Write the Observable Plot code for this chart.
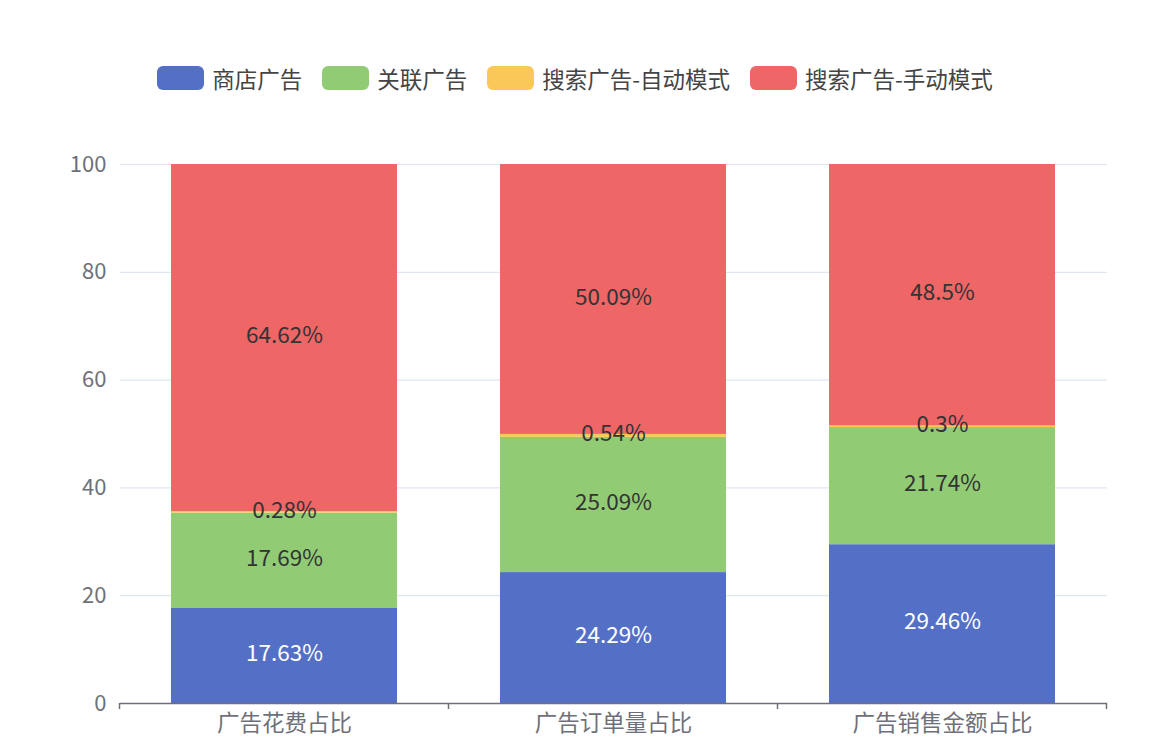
<!DOCTYPE html>
<html>
<head>
<meta charset="utf-8">
<script src="https://cdn.jsdelivr.net/npm/d3@7"></script>
<script src="https://cdn.jsdelivr.net/npm/@observablehq/plot@0.6"></script>
<style>
  html, body { margin: 0; padding: 0; background: #fff; }
  body { width: 1170px; height: 754px; overflow: hidden; font-family: "Noto Sans CJK SC", "Noto Sans", sans-serif; }
  #legend { height: 110px; display: flex; justify-content: center; align-items: flex-start; padding-top: 66px; box-sizing: border-box; padding-right: 20px; }
  .item { display: flex; align-items: center; margin: 0 10px; font-size: 22.5px; color: #444; line-height: 24px; }
  .sw { width: 47px; height: 24px; border-radius: 6px; margin-right: 8px; }
  #chart svg { display: block; }
</style>
</head>
<body>
<div id="legend"></div>
<div id="chart"></div>
<script>
const categories = ["广告花费占比", "广告订单量占比", "广告销售金额占比"];
const seriesNames = ["商店广告", "关联广告", "搜索广告-自动模式", "搜索广告-手动模式"];
const seriesColors = ["#5470c6", "#91cc75", "#fac858", "#ee6666"];
const shopAds = [17.63, 24.29, 29.46];
const relatedAds = [17.69, 25.09, 21.74];
const searchAuto = [0.28, 0.54, 0.3];
const searchManual = [64.62, 50.09, 48.5];
const yTicks = [0, 20, 40, 60, 80, 100];

const seriesValues = [shopAds, relatedAds, searchAuto, searchManual];
const data = [];
categories.forEach((c, i) => {
  seriesNames.forEach((s, j) => {
    data.push({category: c, series: s, value: seriesValues[j][i]});
  });
});

// legend
const legend = document.getElementById("legend");
seriesNames.forEach((s, j) => {
  const it = document.createElement("div");
  it.className = "item";
  const sw = document.createElement("div");
  sw.className = "sw";
  sw.style.background = seriesColors[j];
  const t = document.createElement("span");
  t.textContent = s;
  it.appendChild(sw); it.appendChild(t);
  legend.appendChild(it);
});

const width = 1170, height = 644;
const mL = 120, mR = 63;
const step = (width - mL - mR) / categories.length;
const font = "'Noto Sans CJK SC', 'Noto Sans', sans-serif";

const stackOpts = {x: "category", y: "value", z: "series", order: seriesNames};
const isShop = d => d.series === seriesNames[0];

const chart = Plot.plot({
  width, height,
  marginLeft: mL, marginRight: mR, marginTop: 54, marginBottom: 51,
  style: {fontFamily: font, fontSize: "20px", color: "#6e7079", background: "transparent"},
  x: {domain: categories, paddingInner: 0.313, paddingOuter: 0.1565, label: null},
  y: {domain: [0, 100], label: null},
  color: {domain: seriesNames, range: seriesColors},
  marks: [
    Plot.ruleY(yTicks.filter(d => d > 0), {stroke: "#e0e6f1", strokeWidth: 1.2}),
    Plot.barY(data, {...Plot.stackY(stackOpts), fill: "series", clip: true}),
    Plot.ruleY([0], {stroke: "#6e7079", strokeWidth: 1.5}),
    Plot.axisY({ticks: yTicks, tickSize: 0, tickPadding: 14, fontSize: 22, fill: "#6e7079"}),
    Plot.axisX({tickSize: 0, tickPadding: 12, fontSize: 22.5, fill: "#6e7079"}),
    Plot.text(data, {...Plot.stackY(stackOpts), text: d => isShop(d) ? d.value + "%" : null, fill: "white", fontSize: 22.5, dy: -2}),
    Plot.text(data, {...Plot.stackY(stackOpts), text: d => isShop(d) ? null : d.value + "%", fill: "#333", fontSize: 22.5, dy: -2})
  ]
});
document.getElementById("chart").appendChild(chart);

// boundary ticks on the x axis (at band edges)
const svg = d3.select(chart);
const xs = chart.scale("x");
const ys = chart.scale("y");
const y0 = ys.apply(0);
const edges = categories.map(c => xs.apply(c) - (step - xs.bandwidth) / 2);
edges.push(edges[edges.length - 1] + step);
svg.append("g").selectAll("line").data(edges).join("line")
  .attr("x1", d => d).attr("x2", d => d)
  .attr("y1", y0).attr("y2", y0 + 6)
  .attr("stroke", "#6e7079").attr("stroke-width", 1.5);
</script>
</body>
</html>
